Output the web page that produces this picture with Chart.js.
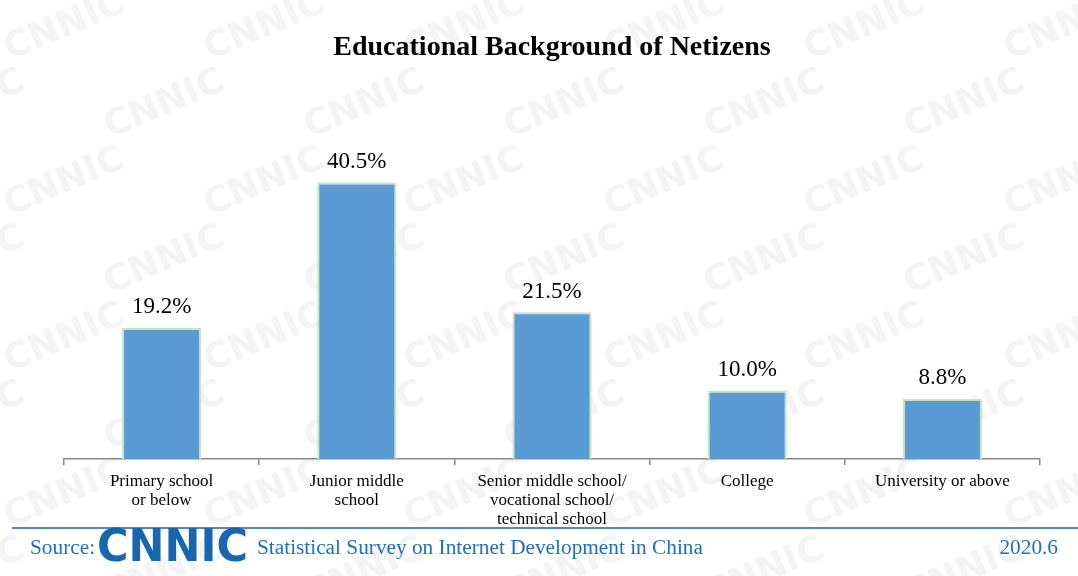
<!DOCTYPE html>
<html>
<head>
<meta charset="utf-8">
<script src="https://cdn.jsdelivr.net/npm/chart.js@4/dist/chart.umd.min.js"></script>
<style>
  html, body { margin: 0; padding: 0; background: #fff; }
  #wrap { width: 1078px; height: 576px; position: relative; }
</style>
</head>
<body>
<div id="wrap"><canvas id="myChart" width="1078" height="576"></canvas></div>
<script>
let categories = [
  ["Primary school", "or below"],
  ["Junior middle", "school"],
  ["Senior middle school/", "vocational school/", "technical school"],
  ["College"],
  ["University or above"],
];
let shares = [19.2, 40.5, 21.5, 10.0, 8.8];
let valueLabels = ["19.2%", "40.5%", "21.5%", "10.0%", "8.8%"];

let serif = "'Liberation Serif', 'Times New Roman', serif";
let footerBlue = "#1f6fbd";

// faint CNNIC watermark behind everything
const watermark = {
  id: "watermark",
  beforeDraw(chart) {
    let c = chart.ctx;
    c.save();
    c.fillStyle = "#f4f4f4";
    c.font = "bold 36px 'DejaVu Sans', sans-serif";
    for (let row = -1; row < 9; row++) {
      for (let col = -1; col < 6; col++) {
        let x = col * 200 + (row % 2) * 100 + 10;
        let y = row * 78 + 60;
        c.save();
        c.translate(x, y);
        c.rotate(-0.4);
        c.fillText("CNNIC", 0, 0);
        c.restore();
      }
    }
    c.restore();
  },
};

// value labels over the bars + source footer
const extras = {
  id: "extras",
  afterDatasetsDraw(chart) {
    let c = chart.ctx;
    let meta = chart.getDatasetMeta(0);
    c.save();
    c.fillStyle = "#000";
    c.font = "23px " + serif;
    c.textAlign = "center";
    c.textBaseline = "bottom";
    meta.data.forEach((bar, i) => {
      c.fillText(valueLabels[i], bar.x, bar.y - 9);
    });
    c.restore();
  },
  afterDraw(chart) {
    let c = chart.ctx;
    c.save();
    c.strokeStyle = "#4f87c9";
    c.lineWidth = 2;
    c.beginPath();
    c.moveTo(12, 528);
    c.lineTo(1078, 528);
    c.stroke();

    c.fillStyle = footerBlue;
    c.font = "21.3px " + serif;
    c.textBaseline = "middle";
    c.textAlign = "left";
    c.fillText("Source:", 30, 548);
    c.fillText("Statistical Survey on Internet Development in China", 257, 548);
    c.textAlign = "right";
    c.fillText("2020.6", 1058, 548);

    // logo
    c.fillStyle = "#1766b0";
    c.font = "bold 44px 'DejaVu Sans', sans-serif";
    c.textAlign = "left";
    let w = c.measureText("CNNIC").width;
    c.translate(97, 550);
    c.scale(151 / w, 1);
    c.fillText("CNNIC", 0, 0);
    c.restore();
  },
};

var ctx = document.getElementById("myChart").getContext("2d");
var myChart = new Chart(ctx, {
  type: "bar",
  data: {
    labels: categories,
    datasets: [
      {
        data: shares,
        backgroundColor: "#5b9bd5",
        borderColor: "#c5e6b8",
        borderWidth: 2,
        borderSkipped: "bottom",
        barPercentage: 0.405,
        categoryPercentage: 1,
      },
    ],
  },
  options: {
    responsive: false,
    animation: false,
    layout: { padding: { left: 64, right: 38, top: 0, bottom: 0 } },
    plugins: {
      legend: { display: false },
      tooltip: { enabled: false },
      title: {
        display: true,
        text: "Educational Background of Netizens",
        color: "#000",
        font: { family: serif, size: 28, weight: "bold" },
        padding: { top: 31, bottom: 53 },
      },
    },
    scales: {
      y: {
        display: false,
        min: 0,
        max: 50,
      },
      x: {
        afterFit(scale) {
          scale.height = 117;
        },
        border: { display: true, color: "#888", width: 1.5 },
        grid: {
          offset: true,
          drawOnChartArea: false,
          drawTicks: true,
          tickLength: 6,
          color: "#888",
          lineWidth: 1.5,
        },
        ticks: {
          color: "#000",
          font: { family: serif, size: 17, lineHeight: 1.12 },
          padding: 7,
          maxRotation: 0,
          autoSkip: false,
        },
      },
    },
  },
  plugins: [watermark, extras],
});
</script>
</body>
</html>
